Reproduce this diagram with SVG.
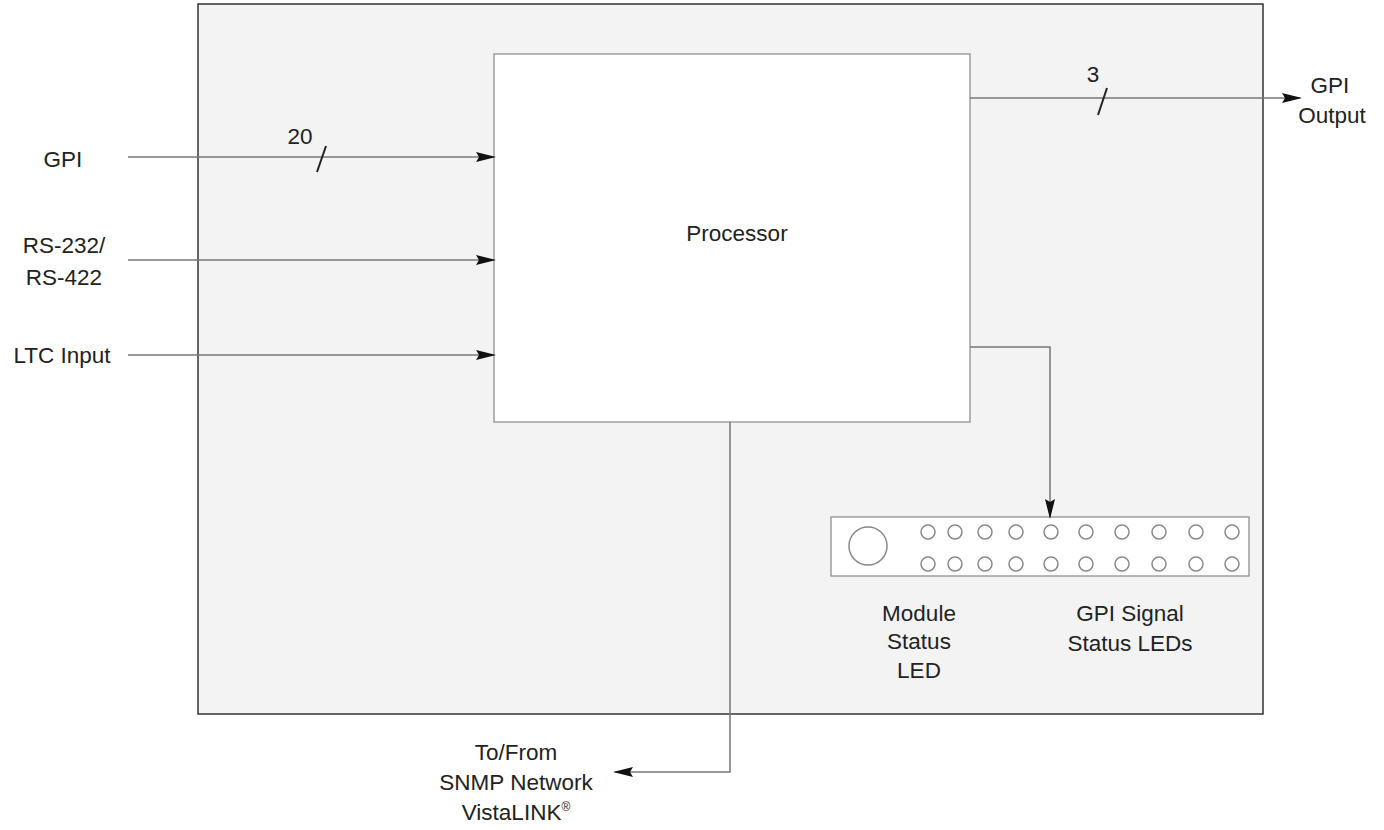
<svg xmlns="http://www.w3.org/2000/svg" width="1384" height="830" viewBox="0 0 1384 830">
<defs>
<marker id="arr" markerWidth="20" markerHeight="12" refX="18" refY="6" orient="auto" markerUnits="userSpaceOnUse">
<path d="M0,1 L20,6 L0,11 L3,6 Z" fill="#111"/>
</marker>
</defs>
<style>
text{font-family:"Liberation Sans",Arial,sans-serif;font-size:22.5px;fill:#222;text-anchor:middle}
.box{fill:#fff;stroke:#888;stroke-width:1.2}
.conn{fill:none;stroke:#777;stroke-width:1.5}
.sl{stroke:#222;stroke-width:2}
.led{fill:none;stroke:#888;stroke-width:1.5}
</style>
<rect width="1384" height="830" fill="#fff"/>
<g id="enclosure"><rect x="198" y="4" width="1065" height="710" fill="#f3f3f3" stroke="#333" stroke-width="1.5"/></g>
<g id="processor"><rect class="box" x="494" y="54" width="476" height="368"/><text x="737" y="241">Processor</text></g>
<g id="leds">
<rect class="box" x="831" y="517" width="418" height="59"/>
<circle class="led" cx="868" cy="546" r="19"/>
<g class="led">
<circle cx="928" cy="532" r="7"/><circle cx="955" cy="532" r="7"/><circle cx="985" cy="532" r="7"/><circle cx="1016" cy="532" r="7"/><circle cx="1051" cy="532" r="7"/><circle cx="1086" cy="532" r="7"/><circle cx="1122" cy="532" r="7"/><circle cx="1159" cy="532" r="7"/><circle cx="1196" cy="532" r="7"/><circle cx="1232" cy="532" r="7"/>
<circle cx="928" cy="564" r="7"/><circle cx="955" cy="564" r="7"/><circle cx="985" cy="564" r="7"/><circle cx="1016" cy="564" r="7"/><circle cx="1051" cy="564" r="7"/><circle cx="1086" cy="564" r="7"/><circle cx="1122" cy="564" r="7"/><circle cx="1159" cy="564" r="7"/><circle cx="1196" cy="564" r="7"/><circle cx="1232" cy="564" r="7"/>
</g>
<text x="919" y="621">Module</text><text x="919" y="649">Status</text><text x="919" y="678">LED</text>
<text x="1130" y="621">GPI Signal</text><text x="1130" y="651">Status LEDs</text>
</g>
<g id="labels">
<text x="63" y="167">GPI</text>
<text x="64" y="253">RS-232/</text><text x="64" y="285">RS-422</text>
<text x="62" y="363">LTC Input</text>
<text x="1330" y="93">GPI</text><text x="1332" y="123">Output</text>
<text x="516" y="760">To/From</text><text x="516" y="790">SNMP Network</text><text x="516" y="820">VistaLINK<tspan font-size="12" dy="-9">®</tspan></text>
<text x="300" y="144">20</text>
<text x="1093" y="82">3</text>
</g>
<g id="connectors">
<line class="conn" x1="128" y1="157" x2="494" y2="157" marker-end="url(#arr)"/>
<line class="conn" x1="128" y1="260" x2="494" y2="260" marker-end="url(#arr)"/>
<line class="conn" x1="128" y1="355" x2="494" y2="355" marker-end="url(#arr)"/>
<line class="conn" x1="970" y1="98" x2="1300" y2="98" marker-end="url(#arr)"/>
<polyline class="conn" points="970,347 1050,347 1050,517" marker-end="url(#arr)"/>
<polyline class="conn" points="730,422 730,772 615,772" marker-end="url(#arr)"/>
<line class="sl" x1="317" y1="172" x2="326" y2="146"/>
<line class="sl" x1="1098" y1="115" x2="1107" y2="88"/>
</g>
</svg>
